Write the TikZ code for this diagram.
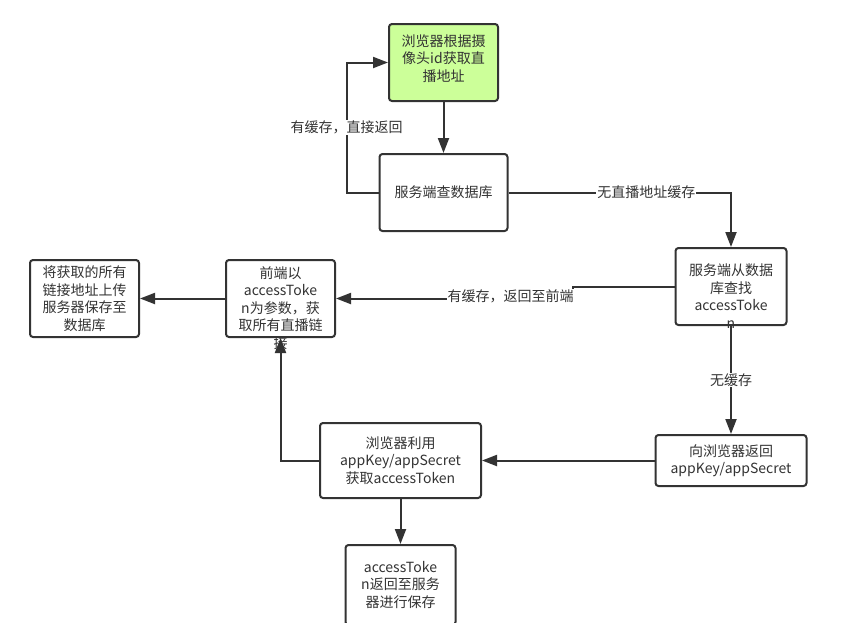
\documentclass[tikz,border=0pt]{standalone}
\usepackage{fontspec}
\setmainfont{Noto Sans CJK SC}
\usepackage{xcolor}
\usetikzlibrary{positioning,arrows.meta}
\definecolor{inkgray}{HTML}{333333}
\definecolor{startgreen}{HTML}{CCFF99}

\begin{document}
\begin{tikzpicture}[x=1pt,y=-1pt,>={Triangle[length=15pt,width=11pt]},
		every node/.style={font=\fontsize{14}{17.5}\selectfont,text=inkgray},
		box/.style={draw=inkgray,line width=2pt,rounded corners=3pt,fill=white,align=center,inner sep=0pt},
		txt/.style={align=center,inner sep=0pt},
		lbl/.style={fill=white,inner sep=1pt},
		conn/.style={draw=inkgray,line width=2pt,->}]
		\useasboundingbox (0,0) rectangle (847,622);

		\node[box,fill=startgreen,minimum width=109pt,minimum height=77pt] (b1) at (443.5,62.5) {};
		\node[txt] (t1) at ([yshift=4pt]b1.center) {浏览器根据摄\\像头id获取直\\播地址};
		\node[box,minimum width=128pt,minimum height=77pt] (b2) at (443.5,192.5) {服务端查数据库};
		\node[box,minimum width=111pt,minimum height=77pt] (b3) at (731,286.5) {};
		\node[txt] (t3) at ([yshift=-9.5pt]b3.center) {服务端从数据\\库查找\\accessToke\\n};
		\node[box,minimum width=109pt,minimum height=77pt] (b4) at (280.5,298.5) {};
		\node[txt] (t4) at ([yshift=-9.5pt]b4.center) {前端以\\accessToke\\n为参数，获\\取所有直播链\\接};
		\node[box,minimum width=109pt,minimum height=77pt] (b5) at (84.5,298.5) {将获取的所有\\链接地址上传\\服务器保存至\\数据库};
		\node[box,minimum width=151pt,minimum height=51pt] (b7) at (731,460.5) {向浏览器返回\\appKey/appSecret};
		\node[box,minimum width=161pt,minimum height=75pt] (b6) at (400.5,460.5) {浏览器利用\\appKey/appSecret\\获取accessToken};
		\node[box,minimum width=110pt,minimum height=80pt] (b8) at (400.5,585) {accessToke\\n返回至服务\\器进行保存};

		\draw[conn] (b1) -- (b2);
		\draw[conn] (b2.west) -- ++(-32,0) coordinate (c1) -- node[lbl] {有缓存，直接返回} (c1 |- b1.west) -- (b1.west);
		\draw[conn] (b2.east) -| node[lbl,pos=0.31] {无直播地址缓存} (b3.north);
		\draw[conn] (b3.west) -- ++(-102,0) |- node[lbl,pos=0.5,anchor=east,xshift=3pt,yshift=2pt] {有缓存，返回至前端} (b4.east);
		\draw[conn] (b4) -- (b5);
		\draw[conn] (b3) -- node[lbl] {无缓存} (b7);
		\draw[conn] (b7) -- (b6);
		\draw[conn] (b6.west) -| (b4.south);
		\draw[conn] (b6) -- (b8);
\end{tikzpicture}
\end{document}
